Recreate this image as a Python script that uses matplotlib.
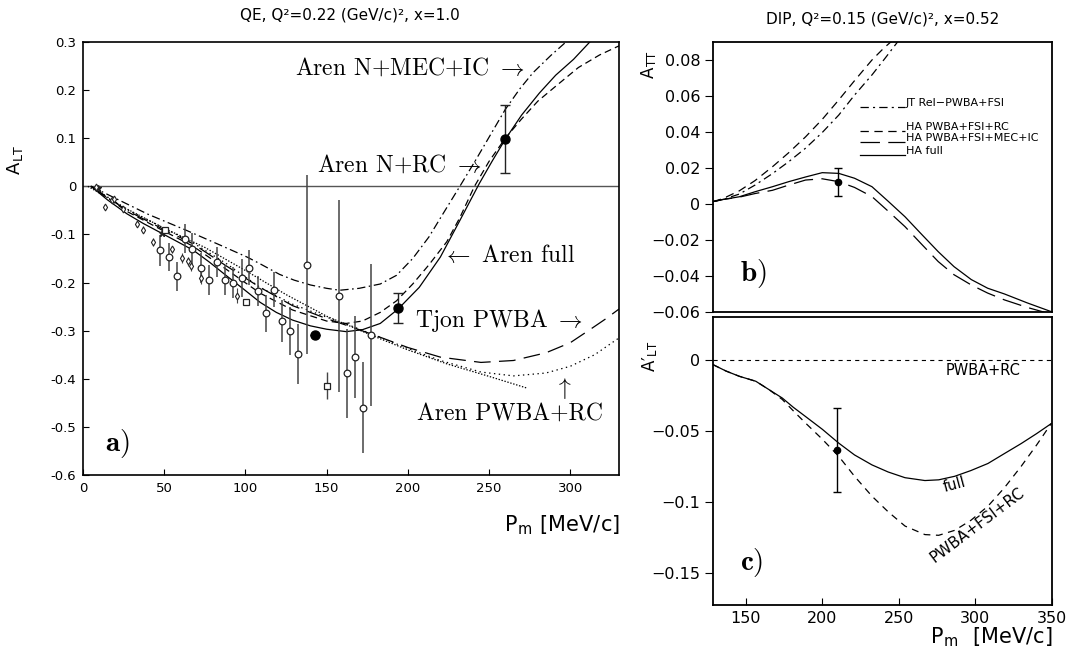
import numpy as np
import matplotlib
matplotlib.use("Agg")
import matplotlib.pyplot as plt
from matplotlib.lines import Line2D

plt.rcParams['font.family'] = ['DejaVu Sans']
plt.rcParams['mathtext.fontset'] = 'cm'
plt.rcParams['lines.scale_dashes'] = False
plt.rcParams['axes.unicode_minus'] = False

# ---------------- panel a: QE, A_LT ----------------
a_full_x = [5, 15, 27, 37, 47, 57, 68, 78, 88, 99, 109, 119, 129, 140, 150, 162, 172, 183, 194, 207, 220, 232, 244, 252, 260, 270, 281, 291, 302, 312]
a_full_y = [0.0, -0.028, -0.057, -0.077, -0.095, -0.113, -0.133, -0.158, -0.185, -0.214, -0.241, -0.262, -0.278, -0.29, -0.297, -0.302, -0.298, -0.285, -0.255, -0.21, -0.147, -0.071, 0.006, 0.053, 0.098, 0.148, 0.194, 0.231, 0.264, 0.30]

a_mec_x = [5, 20, 40, 64, 85, 101, 109, 121, 130, 140, 150, 158, 170, 183, 193, 203, 213, 222, 232, 242, 251, 260, 269, 277, 288, 298]
a_mec_y = [0.0, -0.025, -0.058, -0.092, -0.123, -0.147, -0.161, -0.183, -0.195, -0.205, -0.212, -0.216, -0.212, -0.203, -0.185, -0.15, -0.105, -0.055, 0.0, 0.056, 0.108, 0.16, 0.203, 0.236, 0.272, 0.302]

a_rc_x = [5, 27, 47, 68, 88, 109, 129, 150, 162, 172, 183, 193, 203, 213, 224, 232, 241, 250, 260, 270, 280, 291, 305, 318, 330]
a_rc_y = [0.0, -0.052, -0.088, -0.125, -0.172, -0.222, -0.257, -0.28, -0.285, -0.28, -0.262, -0.238, -0.203, -0.163, -0.115, -0.065, 0.0, 0.052, 0.1, 0.14, 0.177, 0.208, 0.247, 0.273, 0.292]

a_tjon_x = [5, 27, 47, 68, 88, 109, 129, 150, 165, 180, 200, 220, 245, 265, 285, 300, 312, 322, 330]
a_tjon_y = [0.0, -0.05, -0.085, -0.12, -0.165, -0.21, -0.248, -0.275, -0.292, -0.31, -0.335, -0.355, -0.366, -0.362, -0.346, -0.325, -0.298, -0.275, -0.255]

a_pwba_x = [5, 27, 47, 68, 88, 109, 129, 150, 165, 180, 200, 220, 245, 265, 285, 300, 315, 330]
a_pwba_y = [0.0, -0.048, -0.082, -0.118, -0.16, -0.21, -0.245, -0.272, -0.29, -0.31, -0.337, -0.362, -0.386, -0.394, -0.388, -0.374, -0.35, -0.315]

a_dot2_x = [3, 27, 50, 75, 100, 125, 150, 178, 200, 224, 250, 273]
a_dot2_y = [0.0, -0.047, -0.087, -0.127, -0.175, -0.225, -0.27, -0.31, -0.34, -0.369, -0.395, -0.419]

open_x = [47.4, 52.7, 57.6, 62.7, 67.4, 72.6, 77.7, 82.8, 87.5, 92.5, 97.6, 102.5, 107.6, 112.5, 117.7, 122.6, 127.5, 132.4, 137.6, 157.6, 162.6, 167.7, 172.4, 177.5]
open_y = [-0.133, -0.147, -0.187, -0.109, -0.130, -0.169, -0.194, -0.158, -0.194, -0.200, -0.191, -0.169, -0.217, -0.264, -0.215, -0.280, -0.301, -0.349, -0.163, -0.228, -0.389, -0.354, -0.460, -0.309]
open_e = [0.032, 0.029, 0.030, 0.030, 0.032, 0.031, 0.031, 0.031, 0.031, 0.033, 0.040, 0.036, 0.031, 0.038, 0.036, 0.043, 0.050, 0.062, 0.186, 0.200, 0.092, 0.085, 0.095, 0.148]

diam_x = [8, 13.5, 17.6, 19, 24.4, 33, 36.7, 42.8, 54.7, 60.7, 64.8, 66.4, 72.6, 95.1]
diam_y = [-0.002, -0.043, -0.029, -0.027, -0.047, -0.078, -0.09, -0.115, -0.131, -0.149, -0.156, -0.165, -0.19, -0.227]
diam_e = [0.004, 0.005, 0.005, 0.005, 0.006, 0.007, 0.007, 0.008, 0.008, 0.01, 0.01, 0.012, 0.012, 0.015]

star_x = [9, 48.4]
star_y = [-0.003, -0.097]

sq_x = [50.4, 100.2, 150.2]
sq_y = [-0.09, -0.24, -0.414]
sq_e = [0.0, 0.0, 0.028]

fill_x = [143.1, 194.0, 260.1]
fill_y = [-0.308, -0.253, 0.098]
fill_e = [0.0, 0.031, 0.07]

# ---------------- panel b: DIP, A_TT ----------------
b_x = [128.5, 135, 145.7, 156, 167.4, 178, 189, 199.9, 210.7, 221, 232.4, 243, 254, 265, 275.7, 286, 297.3, 308, 319, 334, 349.5]
b_full_y = [0.0013, 0.0025, 0.004, 0.0068, 0.0096, 0.0124, 0.015, 0.0174, 0.017, 0.0143, 0.0096, 0.0015, -0.0071, -0.017, -0.0265, -0.0348, -0.042, -0.0468, -0.05, -0.055, -0.0598]
b_mec_y = [0.0013, 0.0025, 0.0038, 0.0058, 0.0076, 0.0105, 0.0133, 0.014, 0.0124, 0.0092, 0.0041, -0.004, -0.0126, -0.0225, -0.032, -0.0393, -0.045, -0.0495, -0.0533, -0.0575, -0.0612]

b_rc_x = [128.5, 135, 145.7, 156, 167.4, 178, 189, 199.9, 210.7, 221, 232.4, 240, 246]
b_rc_y = [0.0013, 0.003, 0.0073, 0.013, 0.0207, 0.0285, 0.0373, 0.047, 0.0578, 0.0685, 0.08, 0.0865, 0.091]
b_jt_x = [128.5, 135, 145.7, 156, 167.4, 178, 189, 199.9, 210.7, 221, 232.4, 241, 250]
b_jt_y = [0.0013, 0.0025, 0.0055, 0.0105, 0.0169, 0.0235, 0.031, 0.0397, 0.0494, 0.0605, 0.0717, 0.081, 0.091]

b_pt = (209.9, 0.0122, 0.0077)
b_legend = ["JT Rel\u2212PWBA+FSI", "HA PWBA+FSI+RC", "HA PWBA+FSI+MEC+IC", "HA full"]

# ---------------- panel c: DIP, A'_LT ----------------
c_x = [128.5, 137, 145.7, 156.5, 165, 173.8, 181, 189, 200, 210.7, 221, 232.4, 243, 254, 267, 276, 286.5, 297, 308.2, 319, 329.9, 340, 349.5]
c_full_y = [-0.0035, -0.008, -0.0117, -0.0152, -0.021, -0.027, -0.0335, -0.04, -0.049, -0.0587, -0.067, -0.074, -0.079, -0.083, -0.085, -0.0845, -0.082, -0.078, -0.073, -0.066, -0.059, -0.052, -0.045]
c_fsi_y = [-0.0035, -0.008, -0.0117, -0.0152, -0.021, -0.028, -0.036, -0.0446, -0.056, -0.068, -0.082, -0.096, -0.107, -0.117, -0.123, -0.1235, -0.12, -0.113, -0.103, -0.09, -0.075, -0.06, -0.045]
c_pt = (209.6, -0.0634, 0.0297)

a_xticks = [0, 50, 100, 150, 200, 250, 300]
a_yticks = [0.3, 0.2, 0.1, 0, -0.1, -0.2, -0.3, -0.4, -0.5, -0.6]
a_ylabels = ["0.3", "0.2", "0.1", "0", "-0.1", "-0.2", "-0.3", "-0.4", "-0.5", "-0.6"]
b_yticks = [0.08, 0.06, 0.04, 0.02, 0, -0.02, -0.04, -0.06]
c_yticks = [0, -0.05, -0.1, -0.15]
c_xticks = [150, 200, 250, 300, 350]


def mlabel(v):
    s = "0" if v == 0 else ("%g" % v)
    return s.replace("-", "\u2212")


fig = plt.figure(figsize=(10.71, 6.49), dpi=100)
K = 'black'
LW = 0.9

# ---- panel a ----
ax = fig.add_axes([0.0775, 0.2681, 0.5005, 0.6672])
ax.set_xlim(0, 330)
ax.set_ylim(-0.6, 0.3)
ax.axhline(0, color='#555555', lw=1.0)
ax.plot(a_full_x, a_full_y, color=K, lw=LW)
ax.plot(a_mec_x, a_mec_y, color=K, lw=LW, ls=(0, (6, 2.5, 1.2, 2.5)))
ax.plot(a_rc_x, a_rc_y, color=K, lw=LW, ls=(0, (5, 3)))
ax.plot(a_tjon_x, a_tjon_y, color=K, lw=LW, ls=(0, (12, 6)))
ax.plot(a_pwba_x, a_pwba_y, color=K, lw=LW, ls=(0, (1, 2.5)))
ax.plot(a_dot2_x, a_dot2_y, color=K, lw=LW, ls=(0, (1, 1.2)))

ax.errorbar(open_x, open_y, yerr=open_e, fmt='o', ms=4.8, mfc='white', mec='#222222',
            mew=0.9, ecolor='#444444', elinewidth=1.1, capsize=0, zorder=4)
ax.errorbar(diam_x, diam_y, yerr=diam_e, fmt='d', ms=3.5, mfc='white', mec='#222222',
            mew=0.8, ecolor='#444444', elinewidth=0.8, capsize=0, zorder=4)
ax.plot(star_x, star_y, '*', ms=5, color='#222222', zorder=4)
ax.errorbar(sq_x, sq_y, yerr=sq_e, fmt='s', ms=4, mfc='white', mec='#222222',
            mew=0.9, ecolor='#444444', elinewidth=1.0, capsize=0, zorder=4)
ax.errorbar(fill_x, fill_y, yerr=fill_e, fmt='o', ms=6.5, color='black',
            ecolor='#222222', elinewidth=1.0, capsize=3.8, capthick=1.0, zorder=5)

ax.set_xticks(a_xticks)
ax.set_yticks(a_yticks)
ax.set_yticklabels(a_ylabels)
ax.tick_params(direction='in', length=4, width=0.8, labelsize=9.5, pad=5)
for s in ax.spines.values():
    s.set_linewidth(1.2)

serif = dict(family='cmr10', fontsize=17)
ax.text(130.4, 0.246, r"Aren N+MEC+IC $\rightarrow$", ha='left', va='center', **serif)
ax.text(143.9, 0.044, r"Aren N+RC $\rightarrow$", ha='left', va='center', **serif)
ax.text(220.8, -0.144, r"$\leftarrow$ Aren full", ha='left', va='center', **serif)
ax.text(204.2, -0.279, r"Tjon PWBA $\rightarrow$", ha='left', va='center', **serif)
ax.text(205.4, -0.473, "Aren PWBA+RC", ha='left', va='center', **serif)
ax.text(295.2, -0.42, r"$\uparrow$", ha='center', va='center', fontsize=17)
ax.text(13.5, -0.535, r"$\mathbf{a})$", ha='left', va='center', fontsize=21)

ax.text(-0.125, 0.727, r"A$_\mathregular{LT}$", transform=ax.transAxes, rotation=90,
        ha='center', va='center', fontsize=13)
ax.text(1.002, -0.115, r"P$_\mathregular{m}$ [MeV/c]", transform=ax.transAxes,
        ha='right', va='center', fontsize=15)
fig.text(350 / 1071, 1 - 15 / 649, "QE, Q\u00b2=0.22 (GeV/c)\u00b2, x=1.0", ha='center', va='center', fontsize=11)

# ---- panel b ----
bx = fig.add_axes([0.6657, 0.5193, 0.3165, 0.4160])
bx.set_xlim(128.5, 350)
bx.set_ylim(-0.06, 0.09)
bx.plot(b_x, b_full_y, color=K, lw=LW)
bx.plot(b_x, b_mec_y, color=K, lw=LW, ls=(0, (14, 6)))
bx.plot(b_rc_x, b_rc_y, color=K, lw=LW, ls=(0, (6, 4)))
bx.plot(b_jt_x, b_jt_y, color=K, lw=LW, ls=(0, (6, 3, 1.5, 3)))
bx.errorbar([b_pt[0]], [b_pt[1]], yerr=[b_pt[2]], fmt='o', ms=4.5, color='black',
            elinewidth=1.0, capsize=2.9, capthick=1.0, zorder=5)
bx.set_xticks([])
bx.set_yticks(b_yticks)
bx.set_yticklabels([mlabel(v) for v in b_yticks])
bx.tick_params(axis='y', direction='out', length=6, width=0.8, labelsize=11.5, pad=3)
for s in bx.spines.values():
    s.set_linewidth(1.3)

leg_styles = [(0, (6, 3, 1.5, 3)), (0, (6, 4)), (0, (14, 6)), '-']
leg_text_y = [0.774, 0.686, 0.644, 0.596]
leg_line_y = [0.758, 0.672, 0.628, 0.58]
for lab, st, ty, ly in zip(b_legend, leg_styles, leg_text_y, leg_line_y):
    bx.add_line(Line2D([0.434, 0.566], [ly, ly], transform=bx.transAxes, color=K, lw=LW, ls=st))
    bx.text(0.568, ty, lab, transform=bx.transAxes, ha='left', va='center', fontsize=8)

bx.text(0.08, 0.144, r"$\mathbf{b})$", transform=bx.transAxes, ha='left', va='center', fontsize=21)
bx.text(-0.189, 0.915, r"A$_\mathregular{TT}$", transform=bx.transAxes, rotation=90,
        ha='center', va='center', fontsize=12)
fig.text(883 / 1071, 1 - 19 / 649, "DIP, Q\u00b2=0.15 (GeV/c)\u00b2, x=0.52", ha='center', va='center', fontsize=11)

# ---- panel c ----
cx = fig.add_axes([0.6657, 0.0678, 0.3165, 0.4438])
cx.set_xlim(128.5, 350)
cx.set_ylim(-0.1725, 0.03)
cx.axhline(0, color=K, lw=0.8, ls=(0, (3, 3)))
cx.plot(c_x, c_full_y, color=K, lw=LW)
cx.plot(c_x, c_fsi_y, color=K, lw=LW, ls=(0, (5, 4)))
cx.errorbar([c_pt[0]], [c_pt[1]], yerr=[c_pt[2]], fmt='o', ms=4.5, color='black',
            elinewidth=1.0, capsize=2.9, capthick=1.0, zorder=5)
cx.set_xticks(c_xticks)
cx.set_yticks(c_yticks)
cx.set_yticklabels([mlabel(v) for v in c_yticks])
cx.tick_params(axis='y', direction='out', length=6, width=0.8, labelsize=11.5, pad=3)
cx.tick_params(axis='x', direction='in', length=5, width=0.8, labelsize=11.5, pad=4)
for s in cx.spines.values():
    s.set_linewidth(1.3)

cx.text(280.5, -0.0075, "PWBA+RC", ha='left', va='center', fontsize=10.5)
cx.text(286.4, -0.088, "full", ha='center', va='center', fontsize=10.5, rotation=15)
cx.text(301.3, -0.1162, "PWBA+FSI+RC", ha='center', va='center', fontsize=11, rotation=37)
cx.text(0.08, 0.146, r"$\mathbf{c})$", transform=cx.transAxes, ha='left', va='center', fontsize=21)
cx.text(-0.186, 0.865, "A\u2032$_\\mathregular{LT}$", transform=cx.transAxes, rotation=90,
        ha='center', va='center', fontsize=12)
cx.text(1.003, -0.111, r"P$_\mathregular{m}$  [MeV/c]", transform=cx.transAxes,
        ha='right', va='center', fontsize=15)

fig.savefig("out.png", dpi=100)
